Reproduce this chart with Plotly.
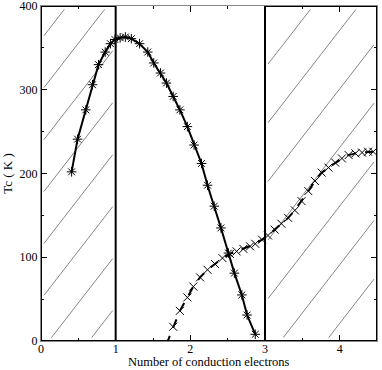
import plotly.graph_objects as go

# Tc versus number of conduction electrons
star_x = [0.41, 0.49, 0.60, 0.69, 0.77, 0.86, 0.93, 0.99, 1.06, 1.13, 1.21, 1.32,
          1.43, 1.51, 1.60, 1.68, 1.77, 1.86, 1.96, 2.05, 2.15, 2.23, 2.32, 2.41,
          2.51, 2.59, 2.69, 2.76, 2.87]
star_tc = [202, 241, 276, 306, 330, 345, 355, 360, 362, 363, 361, 355,
           345, 332, 320, 308, 292, 276, 256, 234, 212, 186, 161, 135,
           105, 81, 55, 31, 8]

cross_x = [1.68, 1.77, 1.86, 1.96, 2.04, 2.13, 2.23, 2.33, 2.43, 2.53, 2.62, 2.71,
           2.80, 2.87, 2.96, 3.04, 3.13, 3.22, 3.31, 3.40, 3.49, 3.58, 3.67, 3.76,
           3.85, 3.94, 4.03, 4.12, 4.21, 4.30, 4.38, 4.45]
cross_tc = [-4, 17, 36, 52, 65, 76, 85, 92, 99, 104, 107, 110,
            113, 116, 121, 126, 133, 140, 147, 156, 167, 179, 191, 201,
            207, 213, 218, 222, 224, 225, 226, 226]

# excluded (hatched) regions
boxes = [(0.0, 1.0), (3.0, 4.5)]
XMAX, YMAX = 4.5, 400

FONT = "Liberation Serif"
W, H = 382, 370
MARGIN = dict(l=41, r=5, t=6, b=29)


def hatch(xa, xb, slope, start, step, inset=(0.04, 4)):
    """Diagonal hatch segments clipped to the box [xa, xb] x [0, YMAX]."""
    dx, dy = inset
    lo_x, hi_x, lo_y, hi_y = xa + dx, xb - dx, dy, YMAX - dy
    xs, ys = [], []
    c = start
    while c < YMAX + slope * (xb - xa):
        x_lo = max(lo_x, xa + (lo_y - c) / slope)
        x_hi = min(hi_x, xa + (hi_y - c) / slope)
        if x_hi > x_lo:
            xs += [x_lo, x_hi, None]
            ys += [c + slope * (x_lo - xa), c + slope * (x_hi - xa), None]
        c += step
    return xs, ys


fig = go.Figure()

hx, hy = [], []
for (xa, xb), (start, step) in zip(boxes, [(-136, 62), (-164, 70)]):
    sx, sy = hatch(xa, xb, 115, start, step)
    hx += sx
    hy += sy
fig.add_trace(go.Scatter(x=hx, y=hy, mode="lines", line=dict(color="#666", width=0.8),
                         hoverinfo="skip", showlegend=False))

fig.add_trace(go.Scatter(
    x=star_x, y=star_tc, mode="lines+markers",
    line=dict(color="black", width=2),
    marker=dict(symbol="asterisk-open", size=8, color="black",
                line=dict(color="black", width=1)),
    showlegend=False,
))
fig.add_trace(go.Scatter(
    x=cross_x, y=cross_tc, mode="lines+markers",
    line=dict(color="black", width=2, dash="dash"),
    marker=dict(symbol="x-thin-open", size=8, color="black",
                line=dict(color="black", width=1)),
    showlegend=False,
))

for xa, xb in boxes:
    fig.add_shape(type="rect", x0=xa, x1=xb, y0=0, y1=YMAX,
                  line=dict(color="black", width=2))
fig.add_shape(type="line", x0=0, x1=XMAX, y0=0, y1=0,
              line=dict(color="black", width=2))

# x title as an annotation pinned to the bottom edge of the figure
plot_h = H - MARGIN["t"] - MARGIN["b"]
fig.add_annotation(
    text="Number of conduction electrons", xref="paper", yref="paper",
    x=0.5, y=-MARGIN["b"] / plot_h, xanchor="center", yanchor="bottom",
    showarrow=False, borderpad=0, font=dict(family=FONT, size=12.5, color="black"),
)

axis_common = dict(
    showgrid=False, zeroline=False, showline=True, linecolor="#888", linewidth=1,
    mirror="ticks", ticks="inside", ticklen=6, tickcolor="black",
    ticklabeloverflow="allow",
    tickfont=dict(family=FONT, size=12, color="black"),
)
fig.update_xaxes(
    range=[0, XMAX], dtick=1, ticklabelstandoff=-3,
    minor=dict(dtick=0.5, ticks="inside", ticklen=3, tickcolor="black"),
    **axis_common,
)
fig.update_yaxes(
    range=[0, YMAX], dtick=100,
    minor=dict(dtick=50, ticks="inside", ticklen=3, tickcolor="black"),
    title=dict(text="Tc ( K )", standoff=6,
               font=dict(family=FONT, size=13, color="black")),
    **axis_common,
)
fig.update_layout(
    width=W, height=H,
    margin=dict(**MARGIN, autoexpand=False),
    plot_bgcolor="white", paper_bgcolor="white",
    font=dict(family=FONT, color="black"),
)
# drop the browser's default body margin so the figure sits at the page corner
fig.write_html("out.html", config={"displayModeBar": False},
               post_script="document.body.style.margin = '0';")
